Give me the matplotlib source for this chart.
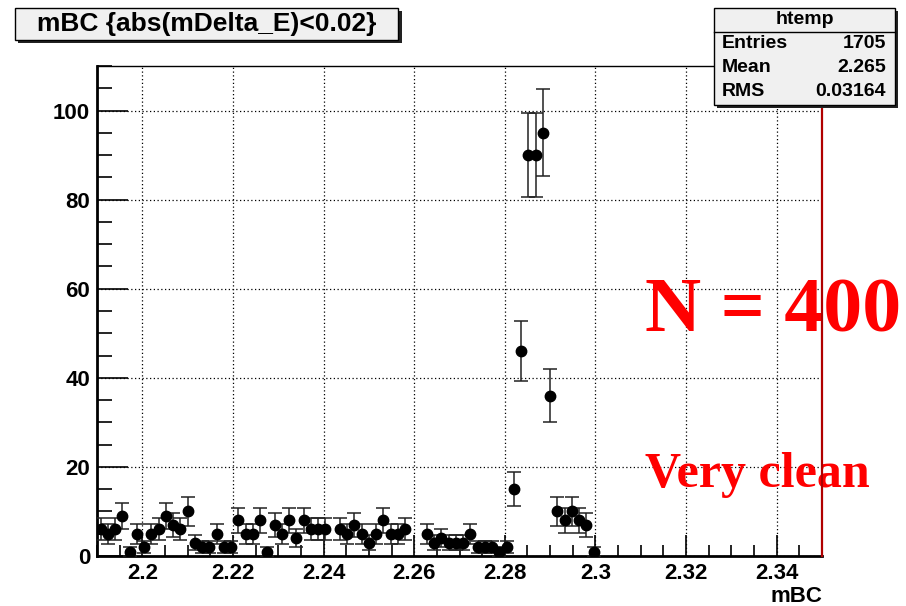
import numpy as np
import matplotlib
matplotlib.use("Agg")
from matplotlib import pyplot as plt
from matplotlib.patches import Rectangle
from matplotlib.ticker import MultipleLocator

# histogram htemp: 100 bins from 2.19 to 2.35, only the first bins are filled
x_min = 2.19
x_max = 2.35
n_bins = 100
counts = [6, 5, 6, 9, 1, 5, 2, 5, 6, 9, 7, 6, 10, 3, 2, 2, 5, 2,
          2, 8, 5, 5, 8, 1, 7, 5, 8, 4, 8, 6, 6, 6,
          0, 6, 5, 7, 5, 3, 5, 8, 5, 5, 6,
          0, 0, 5, 3, 4, 3, 3, 3, 5, 2, 2, 2, 1, 2,
          15, 46, 90, 90, 95, 36, 10, 8, 10, 8, 7, 1]

title_text = "mBC {abs(mDelta_E)<0.02}"
stat_name = "htemp"
stat_labels = ["Entries", "Mean", "RMS"]
stat_values = ["1705", "2.265", "0.03164"]
x_label = "mBC"
note_big = "N = 400"
note_small = "Very clean"

W, H = 906, 606

plt.rcParams['font.family'] = ['Liberation Sans', 'DejaVu Sans']
plt.rcParams['font.weight'] = 'bold'

fig = plt.figure(figsize=(W / 100, H / 100), dpi=100)
ax = fig.add_axes([97 / W, 50 / H, 725 / W, 490 / H])

edges = np.linspace(x_min, x_max, n_bins + 1)
centers = 0.5 * (edges[:-1] + edges[1:])[:len(counts)]
y = np.array(counts, dtype=float)
err = np.sqrt(y)
filled = y > 0

ax.errorbar(centers[filled], y[filled], yerr=err[filled], fmt='o', color='black',
            ecolor='#222222', markersize=7.5, elinewidth=1.1, capsize=5,
            capthick=1.1, zorder=3)

ax.set_xlim(x_min, x_max)
ax.set_ylim(0, 110)
ax.xaxis.set_major_locator(MultipleLocator(0.02))
ax.xaxis.set_minor_locator(MultipleLocator(0.005))
ax.yaxis.set_major_locator(MultipleLocator(20))
ax.yaxis.set_minor_locator(MultipleLocator(5))
ax.set_xticks([2.2, 2.22, 2.24, 2.26, 2.28, 2.3, 2.32, 2.34])
ax.set_xticklabels(["2.2", "2.22", "2.24", "2.26", "2.28", "2.3", "2.32", "2.34"])
ax.tick_params(axis='both', which='both', direction='in', top=False, right=False,
               labelsize=16, pad=5, width=1.2)
ax.tick_params(axis='x', which='major', length=15)
ax.tick_params(axis='x', which='minor', length=8)
ax.tick_params(axis='y', which='major', length=22)
ax.tick_params(axis='y', which='minor', length=11)
for lab in ax.get_xticklabels() + ax.get_yticklabels():
    lab.set_fontweight('bold')
ax.grid(True, which='major', linestyle=(0, (1, 2)), color='black', linewidth=0.9)
ax.set_axisbelow(True)

ax.spines['left'].set_linewidth(2)
ax.spines['bottom'].set_linewidth(2)
ax.spines['top'].set_linewidth(1)
ax.spines['right'].set_linewidth(1.6)
ax.spines['right'].set_color('#b00000')
ax.spines['right'].set_zorder(5)

# red notes, partly outside the frame
ax.text(645 / W, 1 - 331 / H, note_big, transform=fig.transFigure, color='red',
        fontsize=56, family='Liberation Serif', fontweight='bold',
        ha='left', va='baseline', clip_on=False, zorder=2)
ax.text(645 / W, 1 - 487 / H, note_small, transform=fig.transFigure, color='red',
        fontsize=36, family='Liberation Serif', fontweight='bold',
        ha='left', va='baseline', clip_on=False, zorder=2)

fig.text(822 / W, 1 - 597 / H, x_label, ha='right', va='center', fontsize=16,
         fontweight='bold')


def pxbox(x0, y0, x1, y1, **kw):
    return Rectangle((x0 / W, 1 - y1 / H), (x1 - x0) / W, (y1 - y0) / H,
                     transform=fig.transFigure, **kw)


# title box with shadow
fig.patches.append(pxbox(18, 11, 402, 43, facecolor='#222222', edgecolor='none', zorder=1))
fig.patches.append(pxbox(15, 8, 398, 40, facecolor='#f0f0f0', edgecolor='black',
                         linewidth=1, zorder=1.1))
fig.text(206.5 / W, 1 - 24.5 / H, title_text, ha='center', va='center',
         fontsize=19, fontweight='bold')

# stats box with shadow
fig.patches.append(pxbox(717, 11, 898, 108, facecolor='#222222', edgecolor='none', zorder=1))
fig.patches.append(pxbox(714, 8, 895, 105, facecolor='#f0f0f0', edgecolor='black',
                         linewidth=1, zorder=1.1))
fig.add_artist(plt.Line2D([714 / W, 895 / W], [1 - 32 / H, 1 - 32 / H],
                          transform=fig.transFigure, color='black', linewidth=1, zorder=1.2))
fig.text(804.5 / W, 1 - 20 / H, stat_name, ha='center', va='center', fontsize=14,
         fontweight='bold')
for row, (lab, val) in enumerate(zip(stat_labels, stat_values)):
    yy = 1 - (44 + 24 * row) / H
    fig.text(722 / W, yy, lab, ha='left', va='center', fontsize=14, fontweight='bold')
    fig.text(886 / W, yy, val, ha='right', va='center', fontsize=14, fontweight='bold')

fig.savefig("out.png", dpi=100, facecolor='white')
